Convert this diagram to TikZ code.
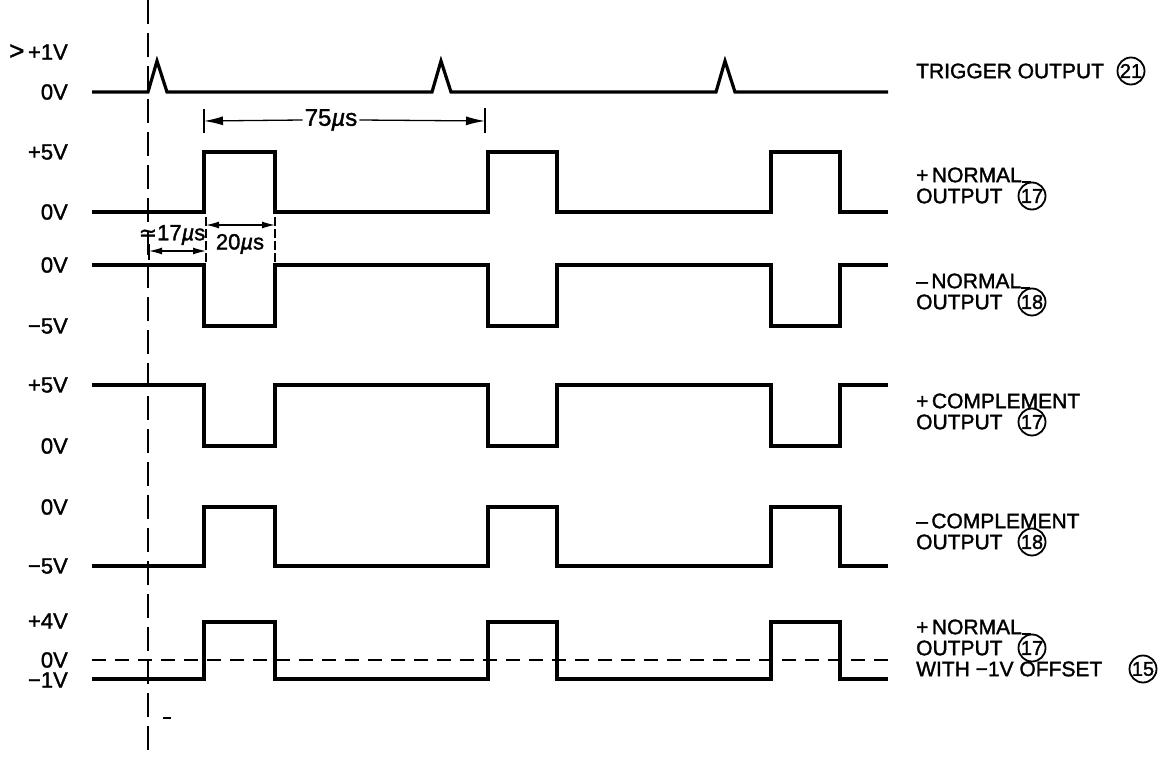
\documentclass[tikz,border=0pt]{standalone}
\usepackage{fontspec}
\setmainfont{Liberation Sans}
\newfontfamily\lblfont{Liberation Sans}[FakeBold=1.5]
\newfontfamily\symfont{DejaVu Sans}[FakeBold=1.0]
\usetikzlibrary{arrows.meta}
\begin{document}
\begin{tikzpicture}[x=1pt,y=-1pt,
  wave/.style={line width=3.2pt, line join=miter},
  vdash/.style={line width=1.6pt, dash pattern=on 24pt off 9pt},
  hdash/.style={line width=1.6pt, dash pattern=on 14pt off 9pt},
  dimline/.style={line width=1.3pt},
  bigarr/.style={-{Latex[length=19pt,width=9pt]}},
  smallarr/.style={{Latex[length=13pt,width=7pt]}-{Latex[length=13pt,width=7pt]}},
  vl/.style={anchor=east, inner sep=0pt, font=\lblfont\fontsize{22}{24}\selectfont},
  rl/.style={anchor=west, inner sep=0pt, font=\lblfont\fontsize{21}{24}\selectfont},
  dl/.style={inner sep=1pt, font=\lblfont\fontsize{22}{24}\selectfont},
  cnum/.style={circle, draw, line width=1.8pt, inner sep=0pt, minimum size=27pt,
    font=\lblfont\fontsize{20}{20}\selectfont}
]
\useasboundingbox (0,0) rectangle (1160,757);

% vertical dashed reference
\coordinate (vt) at (148,0);
\coordinate (vb) at (148,757);
\draw[vdash] (vt) -- (vb);

% trigger
\draw[wave] (92,92) -- (148,92) -- (157,61) -- (167,92) -- (432,92) -- (441,61) -- (451,92)
  -- (716,92) -- (725,61) -- (735,92) -- (888,92);
% + normal
\draw[wave] (92,212) -| (204,152) -| (275,212) -| (488,152) -| (557,212) -| (771,152) -| (840,212) -- (888,212);
% - normal
\draw[wave] (92,265) -| (204,326) -| (275,265) -| (488,326) -| (557,265) -| (771,326) -| (840,265) -- (888,265);
% + complement
\draw[wave] (92,385) -| (204,446) -| (275,385) -| (488,446) -| (557,385) -| (771,446) -| (840,385) -- (888,385);
% - complement
\draw[wave] (92,566) -| (204,507) -| (275,566) -| (488,507) -| (557,566) -| (771,507) -| (840,566) -- (888,566);
% offset
\coordinate (z0) at (92,660);
\coordinate (z1) at (888,660);
\draw[hdash] (z0) -- (z1);
\draw[wave] (92,679) -| (204,622) -| (275,679) -| (488,622) -| (557,679) -| (771,622) -| (840,679) -- (888,679);

% 75us dimension
\coordinate (t1a) at (204,109); \coordinate (t1b) at (204,133);
\coordinate (t2a) at (485,108); \coordinate (t2b) at (485,133);
\draw[dimline] (t1a) -- (t1b);
\draw[dimline] (t2a) -- (t2b);
\node[dl, fill=white, inner sep=2pt, font=\lblfont\fontsize{24}{26}\selectfont] (d75) at (331,120) {75{\itshape µ}s};
\coordinate (a1) at (204,121); \coordinate (a2) at (485,121);
\draw[dimline, bigarr] (d75.west) -- (a1);
\draw[dimline, bigarr] (d75.east) -- (a2);

% 17us and 20us dimensions
\coordinate (k1a) at (149,244); \coordinate (k1b) at (149,260);
\draw[dimline] (k1a) -- (k1b);
\coordinate (k2a) at (206,217); \coordinate (k2b) at (206,262);
\coordinate (k3a) at (275,217); \coordinate (k3b) at (275,262);
\draw[dimline, dash pattern=on 9pt off 3pt] (k2a) -- (k2b);
\draw[dimline, dash pattern=on 9pt off 3pt] (k3a) -- (k3b);
\coordinate (b1) at (149,251); \coordinate (b2) at (206,251);
\draw[dimline, smallarr] (b1) -- (b2);
\coordinate (c1) at (206,225); \coordinate (c2) at (275,225);
\draw[dimline, smallarr] (c1) -- (c2);
\node[dl] (d17) at (172,235) {{\symfont ≃}17{\itshape µ}s};
\node[dl] (d20) at (240,244) {20{\itshape µ}s};

% voltage labels
\node[vl] (v1) at (68,52) {{\fontsize{26}{26}\selectfont >}\,+1V};
\node[vl] (v2) at (68,92) {0V};
\node[vl] (v3) at (68,152) {+5V};
\node[vl] (v4) at (68,212) {0V};
\node[vl] (v5) at (68,265) {0V};
\node[vl] (v6) at (68,326) {−5V};
\node[vl] (v7) at (68,385) {+5V};
\node[vl] (v8) at (68,446) {0V};
\node[vl] (v9) at (68,507) {0V};
\node[vl] (v10) at (68,566) {−5V};
\node[vl] (v11) at (68,621) {+4V};
\node[vl] (v12) at (68,660) {0V};
\node[vl] (v13) at (68,680) {−1V};

% right labels
\node[rl] (r1) at (916,71) {TRIGGER OUTPUT};
\node[cnum] (c21) at (1131,71) {21};

\node[rl] (r2) at (916,175) {+\,NORMAL};
\node[rl] (r3) at (916,196) {OUTPUT};
\node[cnum] (c17a) at (1032,196) {17};
\draw[line width=1.8pt] (r2.base east) -- ++(9,0);

\node[rl] (r4) at (916,281) {–\,NORMAL};
\node[rl] (r5) at (916,302) {OUTPUT};
\node[cnum] (c18a) at (1032,302) {18};
\draw[line width=1.8pt] (r4.base east) -- ++(9,0);

\node[rl] (r6) at (916,401) {+\,COMPLEMENT};
\node[rl] (r7) at (916,422) {OUTPUT};
\node[cnum] (c17b) at (1032,422) {17};

\node[rl] (r8) at (916,521) {–\,COMPLEMENT};
\node[rl] (r9) at (916,542) {OUTPUT};
\node[cnum] (c18b) at (1032,542) {18};

\node[rl] (r10) at (916,627) {+\,NORMAL};
\node[rl] (r11) at (916,648) {OUTPUT};
\node[cnum] (c17c) at (1032,648) {17};
\draw[line width=1.8pt] (r10.base east) -- ++(9,0);
\node[rl] (r12) at (916,669) {WITH −1V OFFSET};
\node[cnum] (c15) at (1143,669) {15};

% stray mark
\coordinate (s1) at (163,718); \coordinate (s2) at (171,718);
\draw[line width=1.5pt] (s1) -- (s2);
\end{tikzpicture}
\end{document}
